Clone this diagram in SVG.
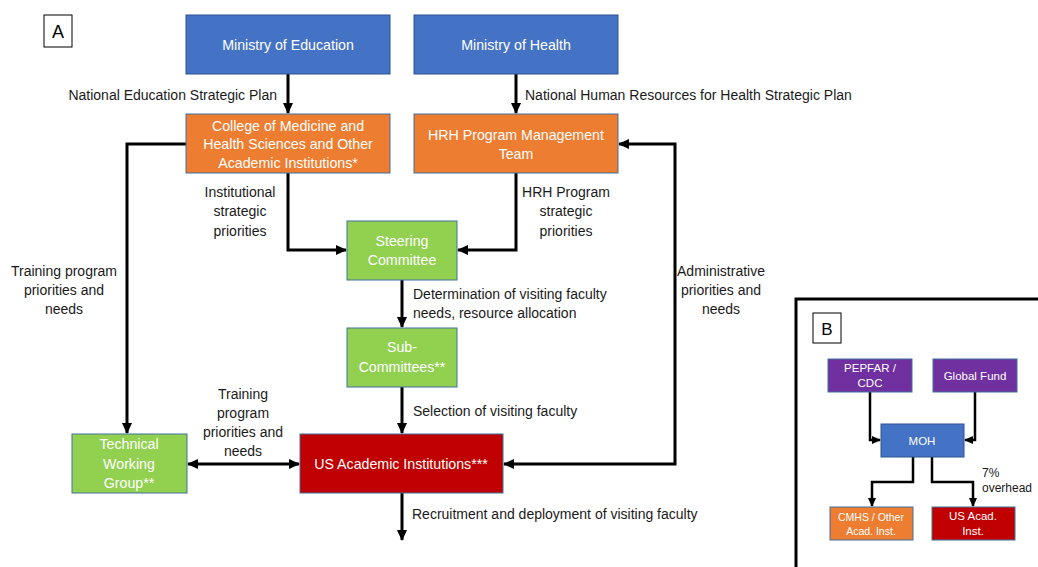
<svg xmlns="http://www.w3.org/2000/svg" width="1038" height="567" viewBox="0 0 1038 567">
<defs>
<style>
text{font-family:"Liberation Sans",Arial,sans-serif;}
.lbl{font-size:14px;fill:#1a1a1a;}
.nt{font-size:14.2px;fill:#fff;text-anchor:middle;}
.nts{font-size:11.5px;fill:#fff;text-anchor:middle;}
.c{stroke:#000;stroke-width:3;fill:none;}
.cs{stroke:#000;stroke-width:2.5;fill:none;}
.blue{fill:#4472C4;stroke:#2F528F;stroke-width:1;}
.orange{fill:#ED7D31;stroke:#41719C;stroke-width:1;}
.green{fill:#92D050;stroke:#41719C;stroke-width:1;}
.red{fill:#C00000;stroke:#41719C;stroke-width:1;}
.purple{fill:#7030A0;stroke:#41719C;stroke-width:1;}
</style>
<marker id="ah" markerUnits="userSpaceOnUse" markerWidth="12" markerHeight="12" refX="10" refY="6" orient="auto-start-reverse"><path d="M0,1 L11,6 L0,11 Z" fill="#000"/></marker>
<marker id="ahs" markerUnits="userSpaceOnUse" markerWidth="10" markerHeight="10" refX="8" refY="5" orient="auto-start-reverse"><path d="M0,1 L9,5 L0,9 Z" fill="#000"/></marker>
</defs>
<rect width="1038" height="567" fill="#fff"/>

<g id="labelA"><rect x="44" y="15" width="28" height="32" fill="#fff" stroke="#000" stroke-width="1"/><text x="58" y="38" font-size="18" text-anchor="middle" fill="#000">A</text></g>

<g id="connectors">
<path class="c" d="M288,74 V113" marker-end="url(#ah)"/>
<path class="c" d="M516,74 V113" marker-end="url(#ah)"/>
<path class="c" d="M186,144 H127 V433" marker-end="url(#ah)"/>
<path class="c" d="M288,173 V250 H346" marker-end="url(#ah)"/>
<path class="c" d="M516,173 V250 H458" marker-end="url(#ah)"/>
<path class="c" d="M402,280 V327" marker-end="url(#ah)"/>
<path class="c" d="M402,387 V433" marker-end="url(#ah)"/>
<path class="c" d="M402,493 V540" marker-end="url(#ah)"/>
<path class="c" d="M188,464 H299" marker-start="url(#ah)" marker-end="url(#ah)"/>
<path class="c" d="M504,464 H675 V144 H619" marker-start="url(#ah)" marker-end="url(#ah)"/>
</g>

<g id="connector-labels">
<text class="lbl" x="277" y="100" text-anchor="end">National Education Strategic Plan</text>
<text class="lbl" x="525" y="100">National Human Resources for Health Strategic Plan</text>
<text class="lbl" text-anchor="middle"><tspan x="240" y="197">Institutional</tspan><tspan x="240" y="216">strategic</tspan><tspan x="240" y="236">priorities</tspan></text>
<text class="lbl" text-anchor="middle"><tspan x="566" y="197">HRH Program</tspan><tspan x="566" y="216">strategic</tspan><tspan x="566" y="236">priorities</tspan></text>
<text class="lbl" text-anchor="middle"><tspan x="64" y="276">Training program</tspan><tspan x="64" y="295">priorities and</tspan><tspan x="64" y="314">needs</tspan></text>
<text class="lbl" text-anchor="middle"><tspan x="721" y="276">Administrative</tspan><tspan x="721" y="295">priorities and</tspan><tspan x="721" y="314">needs</tspan></text>
<text class="lbl"><tspan x="413" y="299">Determination of visiting faculty</tspan><tspan x="413" y="318">needs, resource allocation</tspan></text>
<text class="lbl" x="413" y="416">Selection of visiting faculty</text>
<text class="lbl" text-anchor="middle"><tspan x="243" y="399">Training</tspan><tspan x="243" y="418">program</tspan><tspan x="243" y="437">priorities and</tspan><tspan x="243" y="456">needs</tspan></text>
<text class="lbl" x="412" y="519">Recruitment and deployment of visiting faculty</text>
</g>

<g id="moe"><rect class="blue" x="186" y="15" width="204" height="59"/><text class="nt" x="288" y="50">Ministry of Education</text></g>
<g id="moh"><rect class="blue" x="414" y="15" width="204" height="59"/><text class="nt" x="516" y="50">Ministry of Health</text></g>
<g id="college"><rect class="orange" x="186" y="114" width="204" height="59"/><text class="nt"><tspan x="288" y="131">College of Medicine and</tspan><tspan x="288" y="149">Health Sciences and Other</tspan><tspan x="288" y="168">Academic Institutions*</tspan></text></g>
<g id="hrh"><rect class="orange" x="414" y="114" width="204" height="59"/><text class="nt"><tspan x="516" y="140">HRH Program Management</tspan><tspan x="516" y="159">Team</tspan></text></g>
<g id="steering"><rect class="green" x="347" y="221" width="110" height="59"/><text class="nt"><tspan x="402" y="246">Steering</tspan><tspan x="402" y="265">Committee</tspan></text></g>
<g id="sub"><rect class="green" x="347" y="328" width="110" height="59"/><text class="nt"><tspan x="402" y="352">Sub-</tspan><tspan x="402" y="372">Committees**</tspan></text></g>
<g id="twg"><rect class="green" x="72" y="434" width="115" height="59"/><text class="nt"><tspan x="129" y="449">Technical</tspan><tspan x="129" y="469">Working</tspan><tspan x="129" y="488">Group**</tspan></text></g>
<g id="usacad"><rect class="red" x="300" y="434" width="203" height="59"/><text class="nt" x="401" y="469">US Academic Institutions***</text></g>

<g id="panelB">
<rect x="796" y="299" width="250" height="280" fill="none" stroke="#000" stroke-width="3"/>
<g id="labelB"><rect x="813" y="313" width="28" height="30" fill="#fff" stroke="#000" stroke-width="1"/><text x="827" y="335" font-size="17" text-anchor="middle" fill="#000">B</text></g>
<g id="b-connectors">
<path class="cs" d="M870,392 V440 H880" marker-end="url(#ahs)"/>
<path class="cs" d="M975,392 V440 H965" marker-end="url(#ahs)"/>
<path class="cs" d="M913,457 V482 H872 V506" marker-end="url(#ahs)"/>
<path class="cs" d="M932,457 V482 H973 V506" marker-end="url(#ahs)"/>
<text class="lbl" style="font-size:12px"><tspan x="982" y="477">7%</tspan><tspan x="982" y="492">overhead</tspan></text>
</g>
<g id="pepfar"><rect class="purple" x="828" y="359" width="84" height="33"/><text class="nts"><tspan x="870" y="372">PEPFAR /</tspan><tspan x="870" y="387">CDC</tspan></text></g>
<g id="globalfund"><rect class="purple" x="933" y="359" width="84" height="33"/><text class="nts" x="975" y="380">Global Fund</text></g>
<g id="mohB"><rect class="blue" x="881" y="424" width="83" height="33"/><text class="nts" x="922" y="445">MOH</text></g>
<g id="cmhs"><rect class="orange" x="830" y="507" width="83" height="33"/><text class="nts" style="font-size:10.5px"><tspan x="871" y="521">CMHS / Other</tspan><tspan x="871" y="535">Acad. Inst.</tspan></text></g>
<g id="usB"><rect class="red" x="932" y="507" width="83" height="33"/><text class="nts"><tspan x="973" y="520">US Acad.</tspan><tspan x="973" y="535">Inst.</tspan></text></g>
</g>
</svg>
